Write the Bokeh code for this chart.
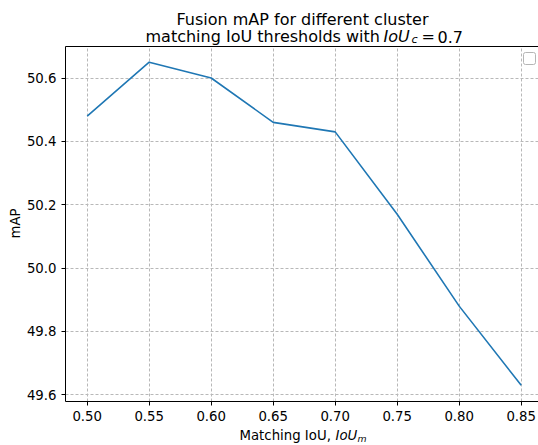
import math
from bokeh.plotting import figure
from bokeh.models import (FixedTicker, PrintfTickFormatter, Label, Grid,
                          BoxAnnotation, Range1d, LinearAxis)
from bokeh.embed import file_html
from bokeh.resources import INLINE

# ---- data ----
iou_m = [0.50, 0.55, 0.60, 0.65, 0.70, 0.75, 0.80, 0.85]
fusion_map = [50.48, 50.65, 50.60, 50.46, 50.43, 50.17, 49.88, 49.63]
x_ticks = [0.50, 0.55, 0.60, 0.65, 0.70, 0.75, 0.80, 0.85]
y_ticks = [49.6, 49.8, 50.0, 50.2, 50.4, 50.6]

# ---- layout (whole canvas is the frame; axes box drawn inside it) ----
W, H = 538, 445
AX_L, AX_T, AX_B = 65, 45.5, 401      # axes box edges in canvas px

xspan = max(iou_m) - min(iou_m)
x0 = min(iou_m) - 0.05 * xspan
x_px = 1240.0                          # px per x unit
yspan = max(fusion_map) - min(fusion_map)
y0 = min(fusion_map) - 0.05 * yspan
y1 = max(fusion_map) + 0.05 * yspan
y_px = (AX_B - AX_T) / (y1 - y0)

x_lo = x0 - AX_L / x_px
x_hi = x0 + (W - AX_L) / x_px
y_lo = y0 - (H - AX_B) / y_px
y_hi = y0 + AX_B / y_px

FONT = "DejaVu Sans"
TICK_FS = "13.3px"

p = figure(width=W, height=H, output_backend="svg", toolbar_location=None,
           x_range=Range1d(x_lo, x_hi), y_range=Range1d(y_lo, y_hi),
           x_axis_type=None, y_axis_type=None,
           min_border=0, min_border_left=0, min_border_right=0,
           min_border_top=0, min_border_bottom=0)
p.outline_line_color = None
p.background_fill_color = "white"
p.border_fill_color = "white"

# grids limited to the axes box
has_cross = "cross_bounds" in Grid.properties()
for dim, ticks, cb in ((0, x_ticks, (y0, y1)), (1, y_ticks, (x0, x_hi))):
    kw = dict(dimension=dim, ticker=FixedTicker(ticks=ticks),
              grid_line_color="#b8b8b8", grid_line_width=1, grid_line_dash="3 2")
    if has_cross:
        kw["cross_bounds"] = cb
    p.add_layout(Grid(**kw))

p.line(iou_m, fusion_map, line_color="#1f77b4", line_width=1.6)


def style_axis(ax):
    ax.axis_line_color = "black"
    ax.axis_line_width = 1
    ax.major_tick_line_color = "black"
    ax.major_tick_line_width = 1
    ax.major_tick_in = 0
    ax.major_tick_out = 4
    ax.minor_tick_line_color = None
    ax.major_label_text_font = FONT
    ax.major_label_text_font_size = TICK_FS
    ax.major_label_text_color = "black"
    ax.major_label_standoff = 5


xa = LinearAxis(fixed_location=y0, bounds=(x0, x_hi),
                ticker=FixedTicker(ticks=x_ticks),
                formatter=PrintfTickFormatter(format="%.2f"))
ya = LinearAxis(fixed_location=x0, bounds=(y0, y1),
                ticker=FixedTicker(ticks=y_ticks),
                formatter=PrintfTickFormatter(format="%.1f"))
top = LinearAxis(fixed_location=y1, bounds=(x0, x_hi),
                 ticker=FixedTicker(ticks=[]))
for ax in (xa, ya, top):
    style_axis(ax)
p.add_layout(xa, "below")
p.add_layout(ya, "left")
p.add_layout(top, "above")

# empty legend frame (top right)
p.add_layout(BoxAnnotation(left=x0 + 458 / x_px, right=x0 + 470 / x_px,
                           bottom=y0 + 337 / y_px, top=y0 + 349 / y_px,
                           fill_color="white", fill_alpha=1,
                           line_color="#b5b5b5", line_alpha=1, line_width=1,
                           border_radius=2))


def lab(text, dx, dy, size, style="normal", align="left", angle=0.0):
    p.add_layout(Label(x=x0, y=y0, x_offset=dx, y_offset=dy, text=text,
                       text_font=FONT, text_font_size=size,
                       text_font_style=style, text_align=align,
                       text_baseline="alphabetic", text_color="black",
                       angle=angle))


# title
lab("Fusion mAP for different cluster", 237, 382, "16px", align="center")
lab("matching IoU thresholds with", 80, 365, "16px")
lab("IoU", 318, 365, "16px", style="italic")
lab("c", 346, 362, "11.2px", style="italic")
lab("=", 356, 365, "16px")
lab("0.7", 372, 365, "16px")

# x axis label
lab("Matching IoU,", 174, -34, TICK_FS)
lab("IoU", 270, -34, TICK_FS, style="italic")
lab("m", 292, -37, "9.3px", style="italic")

# y axis label
lab("mAP", -50, 178, TICK_FS, align="center", angle=math.pi / 2)

open("out.html", "w").write(file_html(p, INLINE))
